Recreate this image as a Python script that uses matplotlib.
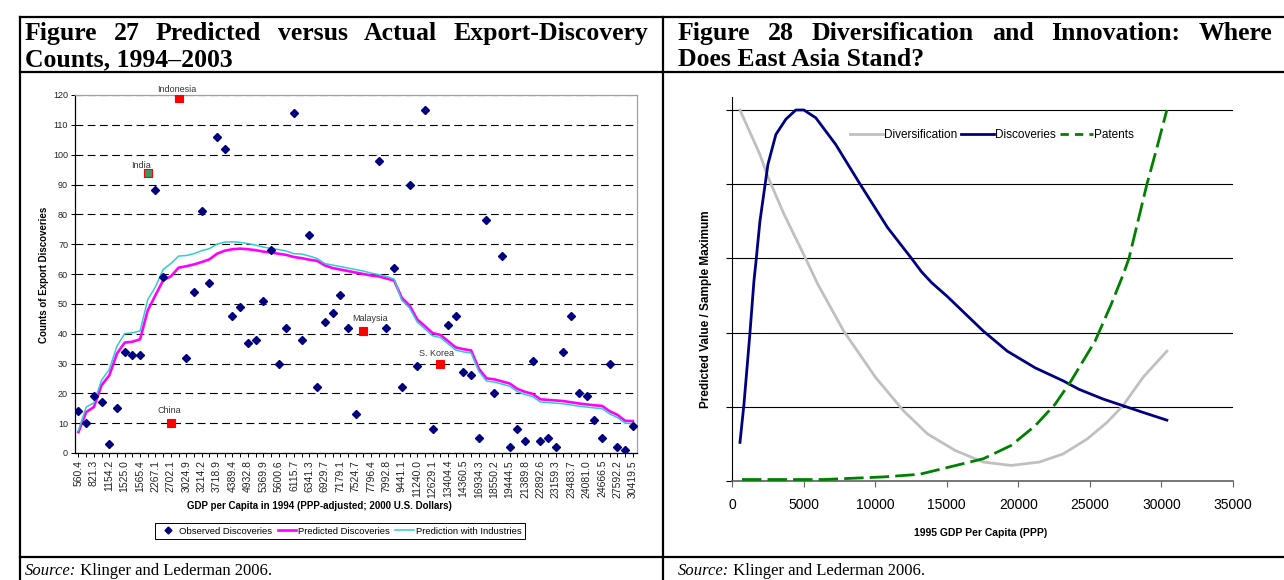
import numpy as np
import matplotlib
matplotlib.use("Agg")
import matplotlib.pyplot as plt
from matplotlib.lines import Line2D

nan = np.nan

# ---- Figure 27 data (category axis, 73 countries sorted by GDP) ----
gdp_labels = ["560.4", "821.3", "1154.2", "1525.0", "1565.4", "2267.1", "2702.1", "3024.9",
              "3214.2", "3718.9", "4389.4", "4932.8", "5369.9", "5600.6", "6115.7", "6341.3",
              "6929.7", "7179.1", "7524.7", "7796.4", "7992.8", "9441.1", "11240.0", "12629.1",
              "13404.4", "14360.5", "16934.3", "18550.2", "19444.5", "21389.8", "22892.6",
              "23159.3", "23483.7", "24081.0", "24666.5", "27592.2", "30419.5"]

observed = [14, 10, 19, 17, 3, 15, 34, 33, 33, nan,
            88, 59, nan, nan, 32, 54, 81, 57, 106, 102,
            46, 49, 37, 38, 51, 68, 30, 42, 114, 38,
            73, 22, 44, 47, 53, 42, 13, nan, nan, 98,
            42, 62, 22, 90, 29, 115, 8, nan, 43, 46,
            27, 26, 5, 78, 20, 66, 2, 8, 4, 31,
            4, 5, 2, 34, 46, 20, 19, 11, 5, 30,
            2, 1, 9]

predicted = [7, 13.7, 15.4, 22.7, 26, 33.3, 37, 37.3, 38.1, 47.8,
             52.9, 57.9, 59.2, 62.1, 62.6, 63.2, 64, 64.9, 66.8, 67.8,
             68.3, 68.5, 68.3, 68, 67.5, 67.2, 66.8, 66.4, 65.7, 65.3,
             64.8, 64.4, 62.9, 62, 61.5, 61, 60.5, 60, 59.5, 59.2,
             58.5, 57.8, 52, 49.5, 44.8, 42.5, 40.2, 39.6, 37.5, 35.4,
             34.8, 34.4, 28.3, 25, 24.7, 24, 23.3, 21.5, 20.5, 19.8,
             18, 17.8, 17.6, 17.4, 17, 16.6, 16.3, 16, 15.8, 14,
             12.8, 10.8, 10.7]

industries = [7.6, 15.4, 16.8, 24.4, 28, 35.8, 40, 40.3, 40.9, 51.4,
              55.7, 61.5, 63.5, 66, 66.2, 66.8, 67.8, 68.5, 70, 70.7,
              70.8, 70.6, 70.2, 69.7, 69, 68.6, 68.2, 67.7, 66.8, 66.7,
              66, 65.2, 63.5, 63, 62.5, 62, 61.5, 61, 60.3, 59.8,
              59.2, 58.3, 51.2, 48.6, 43.9, 41.6, 39.3, 38.7, 36.6, 34.5,
              33.9, 33.5, 27.4, 24.1, 23.8, 23.1, 22.4, 20.6, 19.6, 18.9,
              17.1, 16.9, 16.7, 16.5, 16.1, 15.7, 15.4, 15.1, 14.9, 13.1,
              11.9, 10, 9.9]

hl_names = ["India", "China", "Indonesia", "Malaysia", "S. Korea"]
hl_idx = [9, 12, 13, 37, 47]
hl_vals = [94, 10, 119, 41, 30]

# ---- Figure 28 data ----
div_x = [557, 1951, 2508, 3623, 5016, 6000, 7804, 10034, 11985, 13657, 15608, 17559,
         19510, 21461, 23133, 24805, 26199, 27314, 28707, 30379]
div_y = [1.0, 0.88, 0.82, 0.72, 0.61, 0.53, 0.404, 0.279, 0.189, 0.127, 0.082, 0.051,
         0.042, 0.051, 0.073, 0.113, 0.158, 0.203, 0.279, 0.35]

disc_x = [557, 836, 1254, 1533, 1672, 1951, 2508, 3066, 3762, 4459, 5016, 5853, 7246,
          8918, 10869, 12541, 13239, 13935, 15050, 17559, 19231, 21182, 23133, 24248,
          25920, 27314, 28707, 30379]
disc_y = [0.104, 0.207, 0.399, 0.539, 0.59, 0.70, 0.853, 0.934, 0.975, 1.0, 1.0, 0.979,
          0.907, 0.802, 0.683, 0.60, 0.564, 0.535, 0.497, 0.404, 0.35, 0.305, 0.27, 0.247,
          0.221, 0.203, 0.185, 0.164]

pat_x = [697, 6410, 10591, 13099, 15329, 17559, 19510, 21182, 22575, 23690, 25363, 26478,
         27314, 27732, 28986, 29683, 30379]
pat_y = [0.004, 0.004, 0.011, 0.018, 0.039, 0.06, 0.096, 0.149, 0.207, 0.27, 0.377, 0.475,
         0.555, 0.60, 0.80, 0.898, 1.0]

W, H = 1284, 580


def fx(x):
    return x / W


def fy(y):
    return 1 - y / H


fig = plt.figure(figsize=(W / 100, H / 100), dpi=100)
renderer = fig.canvas.get_renderer()
sans = "Liberation Sans"
serif = "Liberation Serif"

# ---- table frame ----
for (x0, y0, x1, y1) in [(20, 17, 1284, 17), (20, 72, 1284, 72), (20, 557, 1284, 557),
                         (20, 17, 20, 580), (663, 17, 663, 580)]:
    fig.add_artist(Line2D([fx(x0), fx(x1)], [fy(y0), fy(y1)], color="black", lw=1.6))

HEAD = 18.5


def justified(words, x0, x1, y):
    texts = [fig.text(0, fy(y), w, family=serif, weight="bold", size=HEAD, va="baseline")
             for w in words]
    widths = [t.get_window_extent(renderer).width for t in texts]
    gap = (x1 - x0 - sum(widths)) / (len(words) - 1)
    x = x0
    for t, w in zip(texts, widths):
        t.set_x(fx(x))
        x += w + gap


justified("Figure 27 Predicted versus Actual Export-Discovery".split(), 25, 648, 40)
fig.text(fx(25), fy(66), "Counts, 1994\u20132003", family=serif, weight="bold", size=HEAD,
         va="baseline")
justified("Figure 28 Diversification and Innovation: Where".split(), 678, 1272, 40)
fig.text(fx(678), fy(66), "Does East Asia Stand?", family=serif, weight="bold", size=HEAD,
         va="baseline")

for x0 in [25, 678]:
    s = fig.text(fx(x0), fy(575), "Source:", family=serif, style="italic", size=12,
                 va="baseline")
    w = s.get_window_extent(renderer).width
    fig.text(fx(x0 + w), fy(575), " Klinger and Lederman 2006.", family=serif, size=12,
             va="baseline")

# ---- Figure 27 ----
ax1 = fig.add_axes([fx(75), fy(453), fx(637) - fx(75), fy(95) - fy(453)])
pos = np.arange(len(observed))
ax1.plot(pos, predicted, color="#ff00ff", lw=1.9, zorder=3)
ax1.plot(pos, industries, color="#33cccc", lw=1.1, zorder=3)
ax1.plot(pos, observed, linestyle="none", marker="D", ms=4, color="#000080", zorder=4)
for name, i, v in zip(hl_names, hl_idx, hl_vals):
    face = "#339966" if name == "India" else "#ff0000"
    ax1.plot(i, v, marker="s", ms=6, mfc=face, mec="#ff0000", mew=0.8, zorder=5)
offsets = {"India": (-5, 5), "China": (-1, 9), "Indonesia": (-1.5, 6),
           "Malaysia": (5, 9), "S. Korea": (-3, 7)}
for name, i, v in zip(hl_names, hl_idx, hl_vals):
    ax1.annotate(name, (i, v), xytext=offsets[name], textcoords="offset points",
                 ha="center", va="center", fontsize=6.5, family=sans, color="#333333")

ax1.set_xlim(-0.45, 72.55)
ax1.set_ylim(0, 120)
ax1.set_yticks(range(0, 121, 10))
ax1.yaxis.grid(True, color="black", lw=0.8, linestyle=(0, (7, 4)))
ax1.set_axisbelow(True)
ax1.set_xticks(pos[::2])
ax1.set_xticklabels(gdp_labels, rotation=90)
ax1.set_xticks(pos[1::2], minor=True)
ax1.tick_params(axis="both", which="both", length=3, width=0.7, labelsize=6.5,
                labelcolor="#222222", pad=2)
ax1.tick_params(axis="x", labelsize=7.5)
for lab in ax1.get_xticklabels() + ax1.get_yticklabels():
    lab.set_family(sans)
for side in ["left", "bottom"]:
    ax1.spines[side].set_color("black")
    ax1.spines[side].set_linewidth(0.9)
for side in ["top", "right"]:
    ax1.spines[side].set_color("#a0a0a0")
    ax1.spines[side].set_linewidth(0.9)

fig.text(fx(319), fy(506), "GDP per Capita in 1994 (PPP-adjusted; 2000 U.S. Dollars)",
         family=sans, weight="bold", size=7, ha="center", va="center")
fig.text(fx(44), fy(275), "Counts of Export Discoveries", family=sans, weight="bold",
         size=7, ha="center", va="center", rotation=90)

h1 = [Line2D([], [], linestyle="none", marker="D", ms=3.5, color="#000080"),
      Line2D([], [], color="#ff00ff", lw=1.9),
      Line2D([], [], color="#33cccc", lw=1.1)]
leg1 = ax1.legend(h1, ["Observed Discoveries", "Predicted Discoveries",
                       "Prediction with Industries"],
                  loc="center", bbox_to_anchor=(fx(340), fy(531)),
                  bbox_transform=fig.transFigure, ncol=3, frameon=True,
                  fancybox=False, framealpha=1, edgecolor="black", handlelength=2.0,
                  handletextpad=0.15, columnspacing=0.6, borderpad=0.35,
                  prop={"family": sans, "size": 6.8})
leg1.get_frame().set_linewidth(0.7)

# ---- Figure 28 ----
ax2 = fig.add_axes([fx(732), fy(481), fx(1233) - fx(732), fy(97) - fy(481)])
ax2.plot(div_x, div_y, color="#c0c0c0", lw=2.0, zorder=3)
ax2.plot(disc_x, disc_y, color="#000080", lw=2.0, zorder=3)
ax2.plot(pat_x, pat_y, color="#008000", lw=2.0, dashes=(7, 2.2), zorder=3)
ax2.set_xlim(0, 35000)
ax2.set_ylim(0, 1.035)
ax2.set_yticks(np.arange(0, 1.01, 0.2))
ax2.set_yticklabels([])
ax2.yaxis.grid(True, color="black", lw=0.8)
ax2.set_axisbelow(True)
ax2.set_xticks(range(0, 35001, 5000))
ax2.tick_params(axis="both", length=4, width=0.8, labelsize=10, pad=8)
ax2.tick_params(axis="x", color="#606060")
for lab in ax2.get_xticklabels():
    lab.set_family(sans)
ax2.spines["top"].set_visible(False)
ax2.spines["right"].set_visible(False)
ax2.spines["left"].set_color("black")
ax2.spines["left"].set_linewidth(0.8)
ax2.spines["bottom"].set_color("#606060")
ax2.spines["bottom"].set_linewidth(1.2)

fig.text(fx(981), fy(533), "1995 GDP Per Capita (PPP)", family=sans, weight="bold",
         size=7.5, ha="center", va="center")
fig.text(fx(706), fy(309), "Predicted Value / Sample Maximum", family=sans,
         weight="bold", size=8.5, ha="center", va="center", rotation=90)

h2 = [Line2D([], [], color="#c0c0c0", lw=2.0),
      Line2D([], [], color="#000080", lw=2.0),
      Line2D([], [], color="#008000", lw=2.0, dashes=(3, 2.2))]
ax2.legend(h2, ["Diversification", "Discoveries", "Patents"], loc="center",
           bbox_to_anchor=(fx(992), fy(135)), bbox_transform=fig.transFigure, ncol=3,
           frameon=False, handlelength=2.8, handletextpad=0.1, columnspacing=0.3,
           prop={"family": sans, "size": 8.5})

fig.savefig("out.png", dpi=100)
